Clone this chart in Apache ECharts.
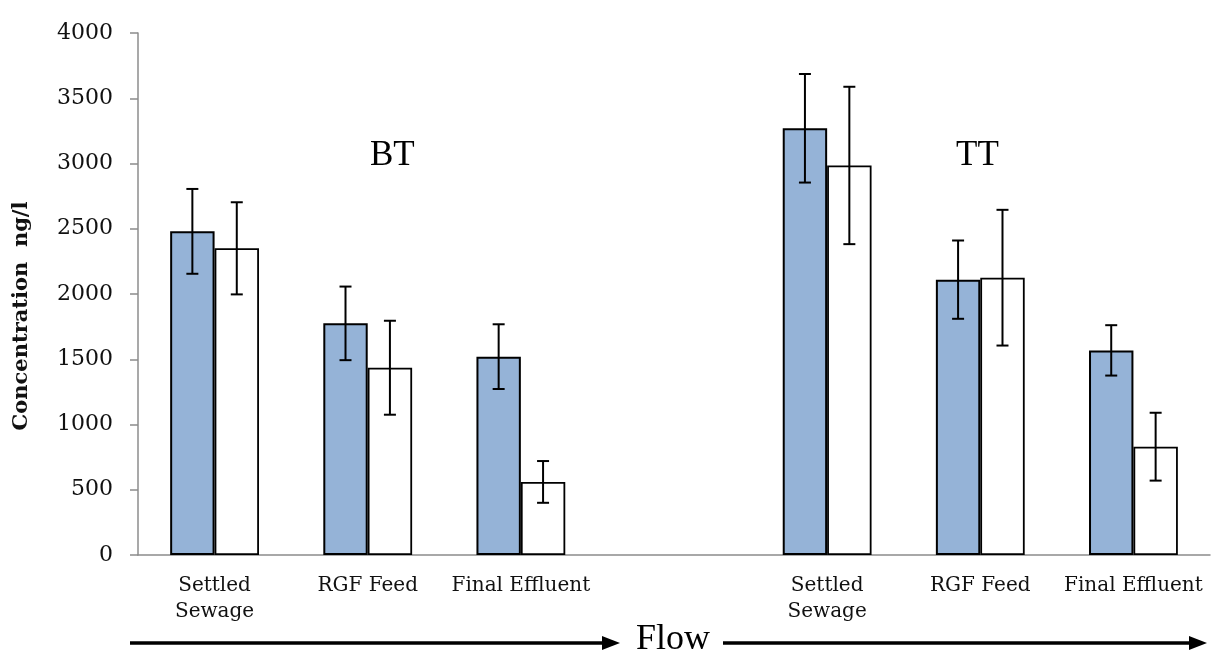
<!DOCTYPE html>
<html>
<head>
<meta charset="utf-8">
<script src="https://cdn.jsdelivr.net/npm/echarts@6/dist/echarts.min.js"></script>
<style>
  html, body { margin: 0; padding: 0; background: #fff; }
  #chart { width: 1213px; height: 653px; }
</style>
</head>
<body>
<div id="chart"></div>
<script>
// Sampling points along the treatment train, for the BT and TT sites (blank slot separates them)
const categories = ['Settled\nSewage', 'RGF Feed', 'Final Effluent', '', 'Settled\nSewage', 'RGF Feed', 'Final Effluent'];

// Mean concentrations (ng/l) and their error half-widths
const blueMean  = [2480, 1775, 1520, null, 3270, 2110, 1568];
const blueErr   = [325, 282, 248, null, 416, 300, 193];
const whiteMean = [2350, 1435, 560, null, 2985, 2125, 830];
const whiteErr  = [353, 360, 160, null, 603, 520, 260];

// Y axis ticks
const yTicks = [0, 500, 1000, 1500, 2000, 2500, 3000, 3500, 4000];

const serif = 'DejaVu Serif';
const BAR_FRAC = 0.29;   // each bar's width as a share of the category band

function errorData(mean, err) {
  const out = [];
  mean.forEach((m, i) => {
    if (m != null) out.push([i, m + err[i], m - err[i]]);
  });
  return out;
}

function errorSeries(mean, err, side) {
  return {
    type: 'custom',
    z: 5,
    silent: true,
    data: errorData(mean, err),
    renderItem: function (params, api) {
      const band = api.size([1, 0])[0];
      const dx = side * band * BAR_FRAC / 2;
      const top = api.coord([api.value(0), api.value(1)]);
      const bot = api.coord([api.value(0), api.value(2)]);
      const x = top[0] + dx;
      const cap = 6;
      const style = { stroke: '#000', lineWidth: 2 };
      return {
        type: 'group',
        children: [
          { type: 'line', shape: { x1: x, y1: top[1], x2: x, y2: bot[1] }, style: style },
          { type: 'line', shape: { x1: x - cap, y1: top[1], x2: x + cap, y2: top[1] }, style: style },
          { type: 'line', shape: { x1: x - cap, y1: bot[1], x2: x + cap, y2: bot[1] }, style: style }
        ]
      };
    }
  };
}

const chart = echarts.init(document.getElementById('chart'));

chart.setOption({
  backgroundColor: '#ffffff',
  animation: false,
  grid: { left: 138, right: 3, top: 33, bottom: 98 },
  xAxis: {
    type: 'category',
    data: categories,
    axisLine: { lineStyle: { color: '#8c8c8c', width: 1.5 } },
    axisTick: { show: false },
    axisLabel: {
      interval: 0,
      color: '#111',
      fontFamily: serif,
      fontSize: 20,
      lineHeight: 26,
      margin: 18
    }
  },
  yAxis: {
    type: 'value',
    min: 0,
    max: yTicks[yTicks.length - 1],
    interval: yTicks[1] - yTicks[0],
    axisLine: { show: true, lineStyle: { color: '#8c8c8c', width: 1.5 } },
    axisTick: { show: true, length: 8, lineStyle: { color: '#8c8c8c', width: 1.5 } },
    splitLine: { show: false },
    axisLabel: {
      color: '#111', fontFamily: serif, fontSize: 22, margin: 25,
      formatter: v => String(v)
    }
  },
  series: [
    {
      type: 'bar',
      data: blueMean,
      barWidth: (BAR_FRAC * 100) + '%',
      barGap: '0%',
      itemStyle: { color: '#95b3d7', borderColor: '#000', borderWidth: 2 }
    },
    {
      type: 'bar',
      data: whiteMean,
      barWidth: (BAR_FRAC * 100) + '%',
      barGap: '0%',
      itemStyle: { color: '#ffffff', borderColor: '#000', borderWidth: 1.8 }
    },
    errorSeries(blueMean, blueErr, -1),
    errorSeries(whiteMean, whiteErr, 1)
  ],
  graphic: [
    // y axis title
    { type: 'text', x: 22, y: 316, rotation: Math.PI / 2,
      style: { text: 'Concentration  ng/l', font: 'bold 21px "DejaVu Serif"', fill: '#111',
               align: 'center', verticalAlign: 'middle' } },
    { type: 'text', left: 370, top: 138,
      style: { text: 'BT', font: '35px "Liberation Serif"', fill: '#000' } },
    { type: 'text', left: 956, top: 138,
      style: { text: 'TT', font: '35px "Liberation Serif"', fill: '#000' } },
    // process flow arrow below the categories
    { type: 'line', shape: { x1: 130, y1: 643, x2: 606, y2: 643 },
      style: { stroke: '#000', lineWidth: 3.5 } },
    { type: 'polygon', shape: { points: [[602, 636], [620, 643], [602, 650]] },
      style: { fill: '#000' } },
    { type: 'text', left: 636, top: 622,
      style: { text: 'Flow', font: '36px "Liberation Serif"', fill: '#000' } },
    { type: 'line', shape: { x1: 723, y1: 643, x2: 1192, y2: 643 },
      style: { stroke: '#000', lineWidth: 3.5 } },
    { type: 'polygon', shape: { points: [[1189, 636], [1207, 643], [1189, 650]] },
      style: { fill: '#000' } }
  ]
});
</script>
</body>
</html>
